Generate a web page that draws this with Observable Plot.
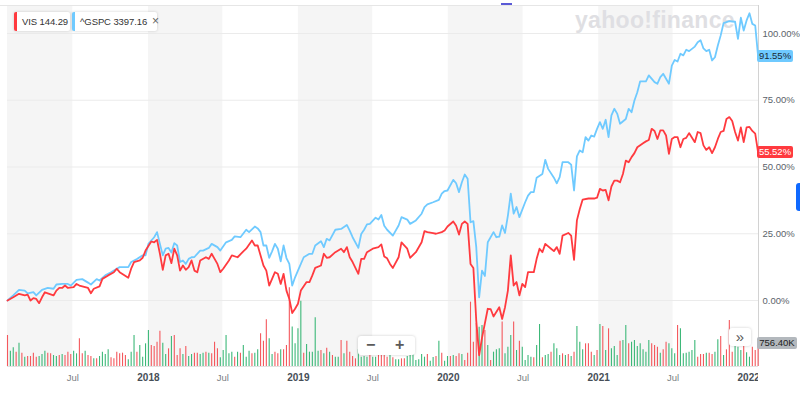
<!DOCTYPE html>
<html><head><meta charset="utf-8">
<script src="https://cdn.jsdelivr.net/npm/d3@7"></script>
<script src="https://cdn.jsdelivr.net/npm/@observablehq/plot@0.6"></script>
<style>
body{margin:0;background:#fff;font-family:"Liberation Sans",Arial,sans-serif;}
#wrap{position:relative;width:800px;height:395px;overflow:hidden;background:#fff;}
#wrap svg{position:absolute;left:0;top:0;}
.abs{position:absolute;}
.chip{position:absolute;top:12px;height:19px;background:#fff;box-shadow:0 0 3px rgba(0,0,0,0.18);border-radius:2px;font-size:9.5px;color:#333;line-height:19px;box-sizing:border-box;padding-left:5px;white-space:nowrap;letter-spacing:-0.1px;}
.tag{position:absolute;height:12px;line-height:12px;font-size:9.5px;text-align:center;border-radius:2px;}
.btn{position:absolute;background:#fff;box-shadow:0 0 3px rgba(0,0,0,0.2);border-radius:3px;color:#5b5b5b;font-weight:bold;text-align:center;}
</style></head><body><div id="wrap"></div>
<script>
// ---------- data ----------
const startWeek = "2017-01-23"; // weekly points, index = weeks since start
const gspc = [[0,0],[2,1.9],[4,4.0],[6,3.7],[7,2.7],[9,3.1],[10,1.9],[12,4.0],[14,4.7],[16,4.4],[17,6.0],[19,6.2],[21,6.2],[22,5.6],[24,7.7],[26,8.0],[28,6.7],[29,6.0],[31,8.0],[32,7.5],[34,9.4],[36,10.6],[38,11.9],[39,12.5],[42,12.5],[43,14.4],[45,15.5],[47,16.9],[48,16.9],[49,21.2],[51,23.7],[52,25.6],[53,21.2],[54,16.9],[55,19.4],[56,19.7],[57,18.0],[58,21.5],[59,20.6],[60,14.4],[61,15.0],[62,13.7],[63,15.6],[64,16.2],[65,16.3],[67,18.7],[68,18.7],[70,19.7],[71,21.2],[73,20.0],[74,18.7],[76,21.8],[78,22.7],[79,24.0],[81,23.7],[83,26.5],[84,25.6],[86,27.7],[87,27.0],[88,25.6],[89,20.6],[90,20.6],[91,16.0],[92,18.4],[93,21.2],[94,19.4],[95,14.7],[96,20.6],[97,15.9],[98,13.7],[99,5.6],[100,8.7],[101,11.2],[103,16.2],[105,17.5],[106,17.5],[107,20.6],[109,22.2],[110,20.0],[111,23.1],[112,22.5],[114,26.5],[116,26.8],[118,28.3],[119,26.2],[120,23.7],[122,19.7],[123,24.9],[124,26.5],[125,28.5],[126,28.7],[128,31.0],[129,30.3],[130,32.0],[131,28.0],[132,26.5],[134,24.3],[136,28.1],[137,31.2],[139,30.3],[140,28.7],[142,30.0],[144,32.5],[145,35.0],[146,36.0],[148,36.8],[150,37.7],[151,40.0],[152,41.0],[153,41.2],[155,45.2],[156,43.9],[157,40.6],[158,44.3],[159,47.2],[160,45.6],[161,29.3],[162,29.7],[163,20.0],[164,1.2],[165,11.2],[166,9.2],[167,21.8],[169,25.6],[170,23.7],[171,23.9],[172,28.1],[173,25.3],[174,31.8],[175,40.0],[176,32.5],[177,35.0],[178,31.2],[180,36.8],[181,39.3],[182,40.6],[183,40.6],[184,46.0],[186,47.4],[187,52.7],[188,49.3],[190,46.0],[191,43.9],[192,46.2],[193,51.8],[195,51.8],[196,50.9],[197,41.2],[198,54.0],[199,56.2],[200,55.5],[201,61.2],[202,59.9],[203,61.8],[204,61.4],[205,64.3],[206,66.8],[207,64.3],[208,67.7],[209,61.2],[210,69.3],[211,71.8],[212,70.0],[213,66.2],[215,68.0],[216,71.8],[217,70.5],[218,74.9],[219,78.0],[220,82.1],[222,82.1],[223,84.3],[225,81.8],[226,81.2],[227,83.7],[228,84.9],[230,81.2],[231,88.0],[232,90.1],[233,89.5],[234,92.4],[235,91.8],[236,93.9],[237,93.4],[239,95.1],[240,96.7],[241,97.5],[242,94.4],[243,93.4],[244,93.9],[245,89.9],[246,91.1],[247,95.5],[248,99.3],[249,103.9],[251,104.6],[252,104.5],[253,104.4],[254,98.0],[255,105.9],[256,101.1],[257,104.9],[258,107.6],[259,103.6],[260,103.0],[261,91.55]];
const vis = [[0,0],[2,1.2],[4,2.5],[6,1.9],[7,2.2],[8,0.0],[9,0.9],[10,0.6],[11,-1.0],[12,1.2],[13,3.1],[14,2.7],[16,1.9],[17,3.7],[18,4.7],[19,4.7],[20,5.6],[21,4.7],[23,5.0],[24,6.2],[25,5.6],[26,5.3],[28,4.7],[29,2.7],[30,4.4],[32,5.3],[33,8.1],[35,9.4],[37,10.6],[38,11.9],[39,10.6],[42,8.5],[43,11.9],[44,14.4],[46,15.0],[47,16.0],[48,18.7],[50,22.1],[51,21.8],[52,22.7],[53,17.5],[54,11.5],[55,16.9],[56,17.5],[57,14.0],[58,19.4],[59,16.9],[60,11.2],[61,13.1],[62,11.5],[63,12.5],[64,15.0],[65,11.2],[66,10.6],[67,15.0],[69,16.2],[70,15.6],[71,17.5],[73,13.7],[74,10.6],[75,11.9],[77,15.0],[78,16.9],[80,16.2],[82,18.4],[83,19.4],[85,22.5],[86,20.6],[87,20.6],[89,13.1],[90,11.2],[91,5.6],[93,10.6],[94,10.0],[95,6.2],[96,10.0],[97,3.7],[98,0.6],[99,-4.7],[100,-3.1],[101,-1.2],[102,3.7],[104,6.9],[105,6.9],[106,9.4],[107,12.2],[109,13.1],[110,17.5],[111,16.0],[112,16.2],[114,18.1],[116,19.4],[117,18.1],[118,20.0],[119,16.2],[120,14.4],[122,10.0],[123,15.6],[124,15.6],[125,18.1],[127,19.4],[129,20.0],[130,21.0],[131,16.5],[132,15.8],[133,13.7],[134,12.2],[136,16.2],[137,21.8],[139,19.4],[140,16.0],[142,18.1],[144,21.8],[145,26.0],[146,25.6],[148,25.2],[149,25.0],[151,25.6],[152,26.2],[153,27.7],[155,29.6],[156,28.0],[157,24.7],[158,28.7],[159,29.6],[160,28.7],[161,13.7],[162,12.2],[163,-7.5],[164,-20.5],[165,-14.0],[167,-3.1],[168,-3.2],[169,-6.0],[171,-2.5],[172,-6.9],[173,-2.5],[174,3.7],[175,16.9],[176,5.6],[177,6.9],[178,1.9],[179,6.2],[180,5.0],[181,10.6],[183,10.6],[184,15.6],[185,19.4],[186,18.1],[187,21.2],[189,19.4],[190,18.5],[191,20.0],[192,17.5],[193,24.3],[195,25.3],[196,24.3],[197,15.2],[198,30.0],[199,34.3],[200,37.8],[202,38.2],[204,38.2],[205,38.5],[206,41.8],[207,41.2],[208,41.4],[209,37.5],[210,42.7],[211,44.9],[212,44.9],[213,44.3],[214,47.4],[215,52.4],[216,51.8],[217,53.7],[218,55.2],[219,57.4],[221,58.9],[222,59.6],[223,60.1],[224,64.3],[225,63.5],[226,60.5],[227,63.7],[228,63.7],[229,61.8],[230,54.9],[231,60.5],[232,61.2],[233,61.2],[234,57.4],[235,60.5],[236,60.9],[237,62.7],[239,59.3],[240,63.1],[241,62.7],[242,58.1],[243,56.4],[244,57.4],[245,55.2],[246,57.4],[247,60.5],[248,63.1],[249,63.5],[250,68.0],[251,68.7],[252,67.2],[253,63.1],[254,59.9],[255,64.8],[256,59.3],[257,64.8],[258,65.0],[259,63.5],[260,62.5],[261,55.52]];
// weekly VIS volume (thousands), "u" = up week (green), "d" = down week (red)
const volume = [[1023,"d"],[506,"u"],[616,"u"],[473,"d"],[770,"u"],[440,"d"],[308,"u"],[330,"d"],[330,"d"],[440,"d"],
[308,"d"],[330,"u"],[396,"u"],[506,"u"],[440,"d"],[418,"d"],[363,"u"],[330,"u"],[363,"d"],[396,"u"],
[363,"d"],[473,"d"],[396,"d"],[506,"u"],[418,"u"],[913,"d"],[418,"d"],[506,"u"],[363,"d"],[330,"d"],
[253,"u"],[253,"d"],[330,"u"],[473,"u"],[396,"u"],[550,"u"],[286,"d"],[253,"d"],[473,"d"],
[418,"d"],[440,"d"],[363,"d"],[220,"u"],[473,"u"],[1023,"u"],[473,"d"],[693,"u"],[308,"u"],[748,"u"],
[1188,"u"],[693,"d"],[660,"d"],[803,"d"],[1166,"d"],[770,"u"],[396,"u"],[583,"d"],[990,"u"],[1023,"d"],
[363,"d"],[583,"d"],[396,"u"],[660,"d"],[330,"u"],[396,"u"],[440,"d"],[440,"d"],[396,"u"],[440,"u"],
[473,"d"],[440,"u"],[418,"d"],[803,"d"],[583,"d"],[286,"u"],[528,"u"],[1023,"u"],[418,"u"],[473,"u"],
[308,"d"],[473,"u"],[440,"d"],[693,"u"],[308,"u"],[506,"u"],[418,"d"],[440,"u"],[550,"u"],[1078,"d"],
[836,"d"],[1540,"d"],[913,"u"],[396,"u"],[473,"d"],[418,"d"],[550,"u"],[550,"d"],[693,"d"],[2600,"d"],
[1300,"u"],[748,"u"],[1243,"u"],[2150,"u"],[440,"d"],[726,"u"],[473,"u"],[473,"u"],[1606,"u"],[506,"u"],
[528,"d"],[418,"u"],[605,"d"],[473,"u"],[363,"d"],[308,"u"],[308,"u"],[858,"d"],[418,"u"],[836,"d"],
[473,"d"],[330,"d"],[253,"d"],[550,"u"],[308,"u"],[330,"u"],[308,"u"],[363,"d"],[308,"u"],[308,"u"],
[363,"d"],[363,"d"],[363,"d"],[308,"d"],[363,"u"],[286,"d"],[220,"u"],
[220,"u"],[253,"d"],[253,"d"],[330,"u"],[363,"u"],[528,"u"],[198,"u"],[220,"u"],[396,"u"],[308,"u"],
[396,"d"],[176,"u"],[300,"u"],[330,"d"],[836,"u"],[440,"d"],[176,"u"],[330,"u"],[330,"d"],[363,"u"],
[330,"d"],[418,"d"],[396,"u"],[198,"d"],[440,"d"],[2123,"d"],[803,"d"],[1420,"d"],[1298,"u"],[1353,"u"],
[1188,"d"],[693,"u"],[198,"d"],[473,"u"],[550,"u"],[583,"u"],[1466,"d"],[418,"u"],[638,"u"],[1023,"u"],
[1466,"d"],[528,"u"],[836,"d"],[638,"u"],[198,"u"],[363,"u"],[308,"u"],[286,"d"],[693,"u"],[1386,"u"],
[286,"d"],[363,"u"],[396,"u"],[473,"d"],[748,"u"],[583,"u"],[363,"u"],[418,"d"],[363,"u"],[396,"d"],
[330,"u"],[473,"d"],[1320,"u"],[803,"u"],[550,"u"],[748,"d"],[748,"d"],[473,"d"],[363,"u"],[528,"d"],
[1386,"u"],[1320,"d"],[528,"u"],[1243,"d"],[583,"u"],[660,"u"],[363,"u"],[836,"d"],[858,"u"],[1353,"u"],
[748,"d"],[803,"u"],[858,"u"],[660,"u"],[748,"u"],[550,"u"],[473,"u"],[858,"u"],[748,"d"],[693,"d"],
[638,"d"],[440,"u"],[550,"d"],[803,"d"],[748,"u"],[583,"u"],[418,"u"],[1353,"d"],[1243,"u"],[418,"u"],
[440,"u"],[473,"u"],[528,"u"],[858,"u"],[308,"d"],[396,"d"],[396,"d"],[440,"u"],[440,"d"],[396,"d"],
[473,"u"],[880,"u"],[990,"d"],[363,"u"],[550,"d"],[1518,"d"],[473,"d"],[770,"u"],[638,"u"],[528,"u"],
[693,"d"],[450,"u"],[308,"u"],[638,"d"],[528,"d"],[756.4,"d"]];
const bands = [["2017-01-01","2017-07-01"],["2018-01-01","2018-07-01"],["2019-01-01","2019-07-01"],["2020-01-01","2020-07-01"],["2021-01-01","2021-07-01"]];
const yTicks = [0, 25, 50, 75, 100];
const xTicks = [["2017-07-01","Jul"],["2018-01-01","2018"],["2018-07-01","Jul"],["2019-01-01","2019"],["2019-07-01","Jul"],["2020-01-01","2020"],["2020-07-01","Jul"],["2021-01-01","2021"],["2021-07-01","Jul"],["2022-01-01","2022"]];
const legend = [["VIS","144.29","#ff3a3f"],["^GSPC","3397.16","#6fcaff"]];
const lastVis = 55.52, lastGspc = 91.55, lastVolume = 756.40;

// ---------- chart ----------
const t0 = Date.parse(startWeek + "T00:00:00Z");
const wk = w => new Date(t0 + w * 7 * 864e5);
const W = 800, H = 395;
const xDomain = [wk(0), new Date(+wk(261) + 864e5)];
const yDomain = [-24.72, 110.49];
const common = {
  width: W, height: H, marginLeft: 7, marginRight: 42, marginTop: 5, marginBottom: 29,
  x: {type: "utc", domain: xDomain, axis: null},
  style: {background: "transparent", overflow: "visible", fontFamily: "Liberation Sans, Arial, sans-serif"}
};
const wrap = document.getElementById("wrap");
const isYear = t => t[1] !== "Jul";

const basePlot = Plot.plot({
  ...common,
  y: {domain: yDomain, axis: null},
  marks: [
    Plot.rect(bands, {x1: b => new Date(b[0]), x2: b => new Date(b[1]), y1: yDomain[0], y2: yDomain[1], fill: "#f5f5f5", clip: true}),
    Plot.ruleY(yTicks, {stroke: "#ebebeb"}),
    Plot.ruleY([yDomain[0]], {stroke: "#e2e2e2"}),
    Plot.ruleY([yDomain[1]], {stroke: "#e6e6e6"}),
    Plot.ruleX([xDomain[1]], {y1: yDomain[0], y2: yDomain[1], stroke: "#d2d2d2"}),
    Plot.text(yTicks, {x: xDomain[1], y: d => d, text: d => d.toFixed(2) + "%", dx: 4, textAnchor: "start", fill: "#5b636a", fontSize: 9.5}),
    Plot.text(xTicks.filter(t => !isYear(t)), {x: t => new Date(t[0]), y: yDomain[0], dy: 11, text: t => t[1], fill: "#7b7f84", fontSize: 9.5}),
    Plot.text(xTicks.filter(isYear), {x: t => new Date(t[0]), y: yDomain[0], dy: 11, text: t => t[1], fill: "#464e56", fontSize: 10, fontWeight: "bold"})
  ]
});
wrap.appendChild(basePlot);

const wm = document.createElement("div");
wm.className = "abs";
wm.style.cssText = "left:575px;top:9px;font:bold 23px 'Liberation Sans',Arial,sans-serif;line-height:23px;color:#dfdfe3;letter-spacing:0.3px;";
wm.textContent = "yahoo!finance";
wrap.appendChild(wm);

const volRows = volume.map((v, i) => ({date: wk(i), v: v[0], up: v[1] === "u"}));
const volPlot = Plot.plot({
  ...common,
  y: {domain: [0, 3000], range: [366, 366 - 3000 / 33], axis: null},
  marks: [
    Plot.ruleX(volRows, {x: "date", y1: 0, y2: "v", stroke: r => r.up ? "#3cb878" : "#f4585d", strokeWidth: 1.1})
  ]
});
wrap.appendChild(volPlot);

const linePlot = Plot.plot({
  ...common,
  y: {domain: yDomain, axis: null},
  marks: [
    Plot.line(gspc, {x: p => wk(p[0]), y: p => p[1], stroke: legend[1][2], strokeWidth: 1.8}),
    Plot.line(vis, {x: p => wk(p[0]), y: p => p[1], stroke: legend[0][2], strokeWidth: 1.8})
  ]
});
wrap.appendChild(linePlot);

// ---------- html overlays ----------
function add(cls, css, text) {
  const e = document.createElement("div");
  e.className = cls; e.style.cssText = css; if (text != null) e.textContent = text;
  wrap.appendChild(e); return e;
}
add("abs", "left:758px;top:368px;width:42px;height:24px;background:#fff;");
add("abs", "left:0px;top:5px;width:7px;height:1px;background:#e6e6e6;");
const ys = linePlot.scale("y"), yv = volPlot.scale("y");
add("tag", `left:757px;width:36px;top:${ys.apply(lastGspc) - 6}px;background:#6fcaff;color:#1b2a36;`, lastGspc.toFixed(2) + "%");
add("tag", `left:757px;width:36px;top:${ys.apply(lastVis) - 6}px;background:#ff3a3f;color:#fff;`, lastVis.toFixed(2) + "%");
add("tag", `left:757px;width:40px;top:${yv.apply(lastVolume) - 6}px;background:#b3b8bd;color:#222;`, lastVolume.toFixed(2) + "K");

add("chip", `left:14px;width:56px;border-left:3px solid ${legend[0][2]};`, legend[0][0] + " " + legend[0][1]);
const c2 = add("chip", `left:72px;width:85px;border-left:3px solid ${legend[1][2]};`, legend[1][0] + " " + legend[1][1]);
const x = document.createElement("span"); x.textContent = "×"; x.style.cssText = "color:#666;font-size:12px;margin-left:5px;"; c2.appendChild(x);

const zb = add("btn", "left:358px;top:336px;width:57px;height:19px;line-height:19px;font-size:16px;");
zb.innerHTML = '<span style="position:absolute;left:8px;top:-1px;">−</span><span style="position:absolute;left:37px;top:-1px;">+</span>';
add("btn", "left:729px;top:328px;width:22px;height:18px;line-height:17px;font-size:15px;font-weight:normal;", "»");
add("abs", "left:501px;top:3px;width:11px;height:2px;background:#5a5ad6;");
add("abs", "left:796px;top:183px;width:4px;height:28px;background:#0f69ff;border-radius:3px 0 0 3px;");
</script></body></html>
